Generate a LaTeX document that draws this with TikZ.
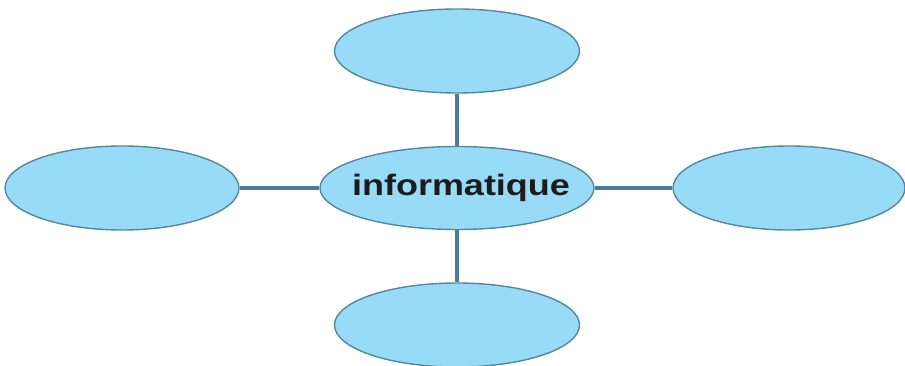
\documentclass[tikz,border=0pt]{standalone}
\usepackage{fontspec}
\setmainfont{Liberation Sans}
\usetikzlibrary{shapes.geometric}
\definecolor{bubblefill}{HTML}{98DBF6}
\definecolor{bubbleedge}{HTML}{55879F}
\definecolor{linkcol}{HTML}{4A7D96}
\definecolor{textcol}{HTML}{1C1C1E}
\tikzset{
  bubble/.style={ellipse, draw=bubbleedge, fill=bubblefill, line width=1.4pt, inner sep=0pt},
  sidebubble/.style={bubble, minimum width=240pt, minimum height=84pt},
  mainbubble/.style={bubble, minimum width=274pt, minimum height=83pt},
  link/.style={draw=linkcol, line width=3.3pt}
}
\begin{document}
\begin{tikzpicture}[x=1pt,y=-1pt]
\useasboundingbox (0,0) rectangle (905,366);
\node[mainbubble] (center) at (457,188) {};
\node[text=textcol, font=\bfseries\fontsize{29.5}{30}\selectfont, xscale=1.22, inner sep=0pt] (label) at (461,188) {informatique};
\node[sidebubble, minimum width=245pt] (top) at (457,51) {};
\node[sidebubble, minimum width=245pt] (bottom) at (457,325) {};
\node[sidebubble, minimum width=234pt] (left) at (122,188) {};
\node[sidebubble, minimum width=232pt] (right) at (789,188) {};
\draw[link] (top.south) -- (center.north);
\draw[link] (center.south) -- (bottom.north);
\draw[link] (left.east) -- (center.west);
\draw[link] (center.east) -- (right.west);
\end{tikzpicture}
\end{document}
